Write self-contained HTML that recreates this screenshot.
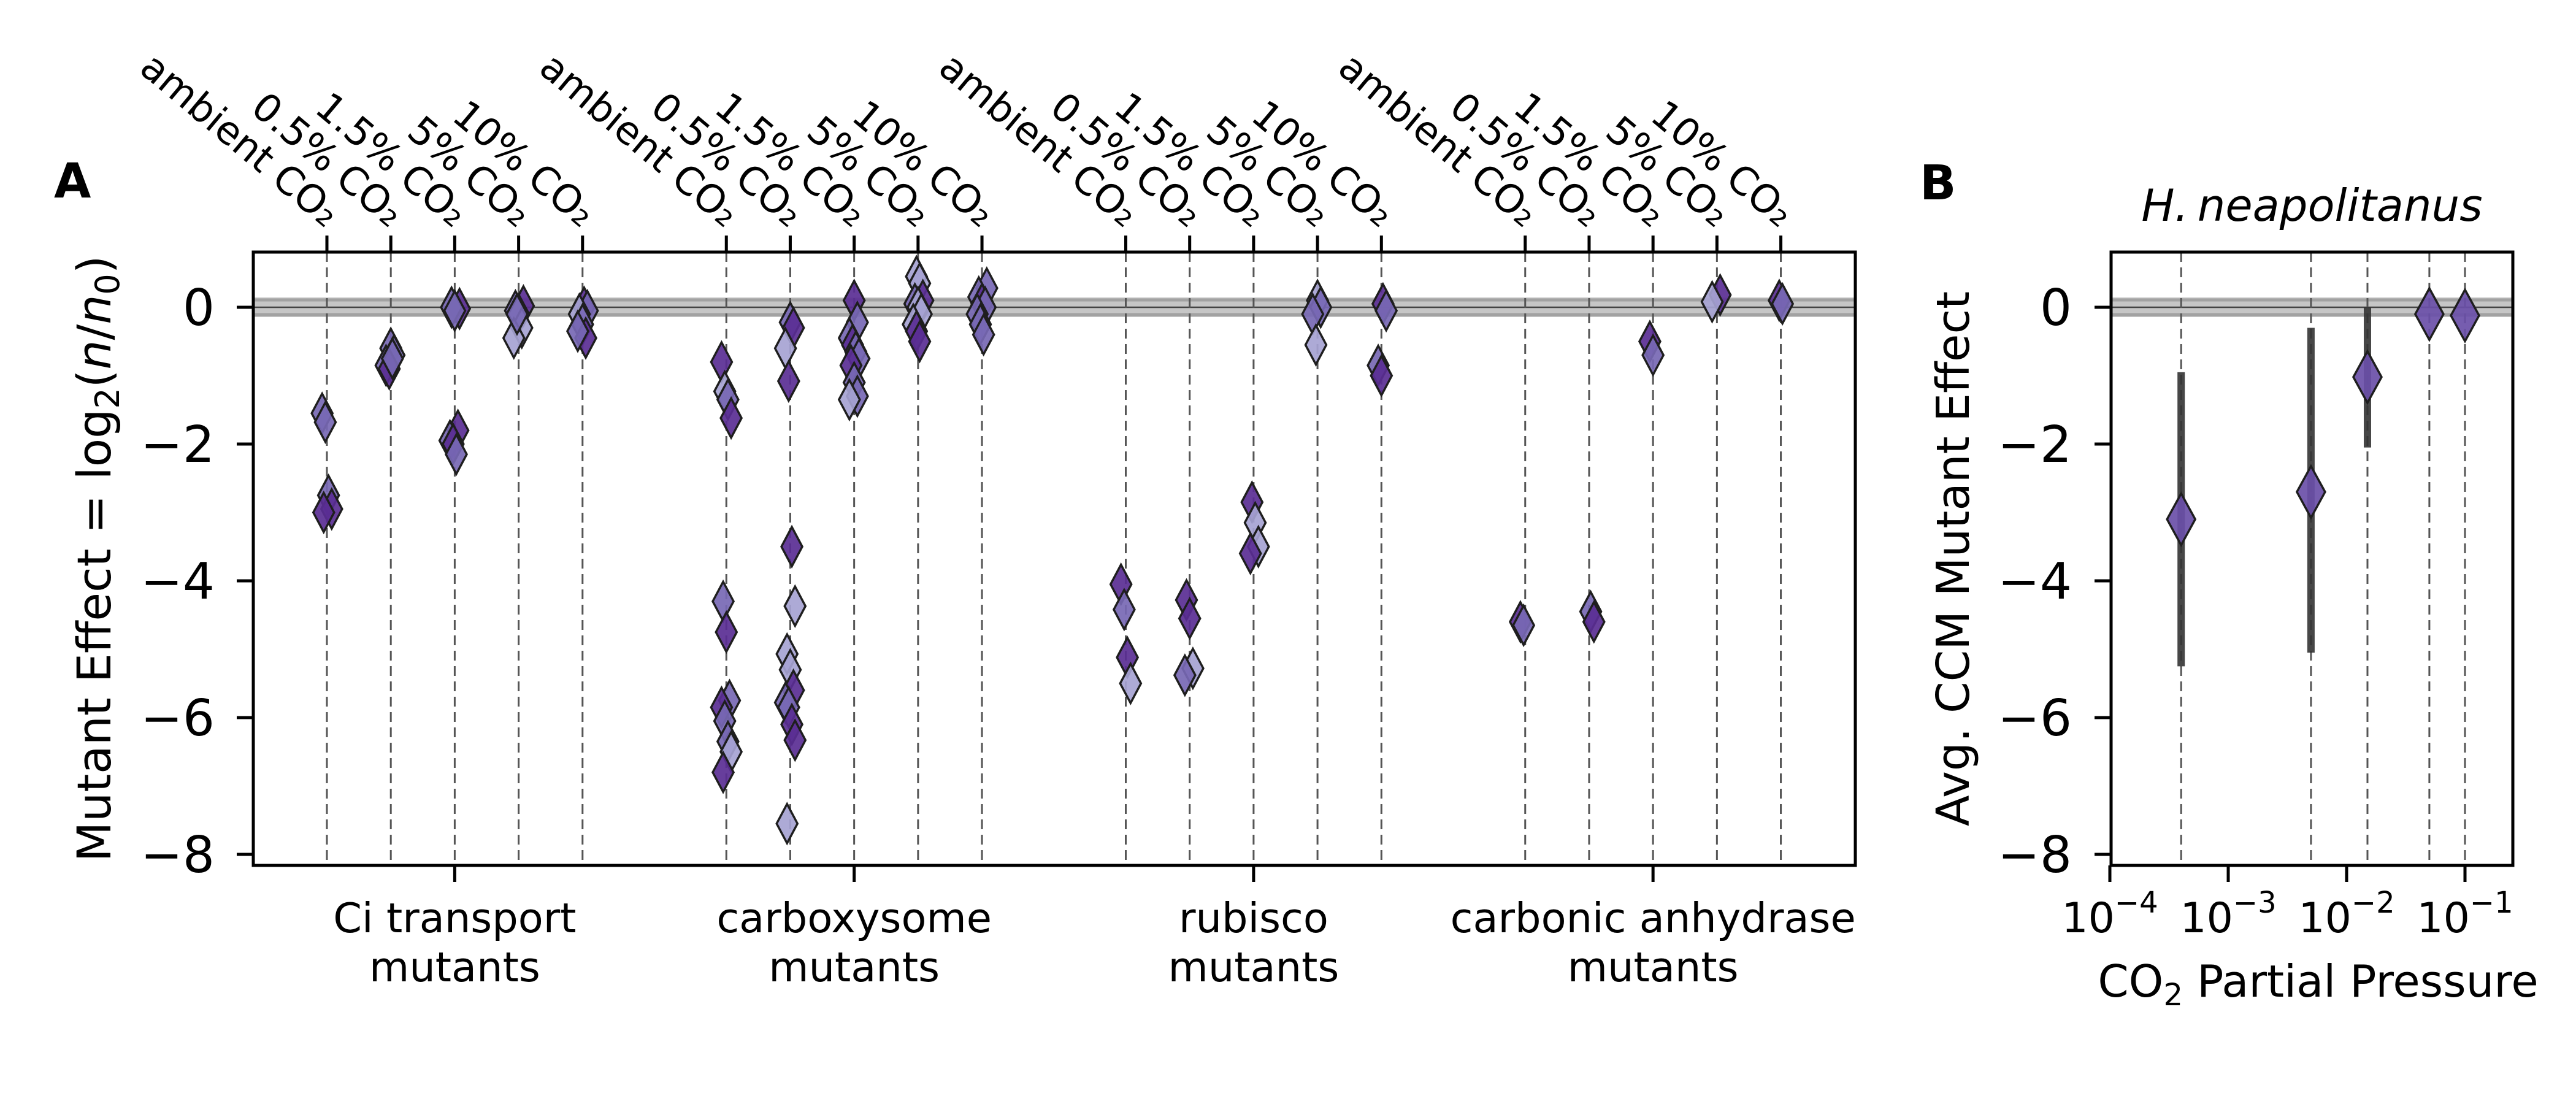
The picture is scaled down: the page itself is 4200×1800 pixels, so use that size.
<!DOCTYPE html>
<html><head><meta charset="utf-8"><style>
html,body{margin:0;padding:0;background:#fff;}
svg{display:block;font-family:"DejaVu Sans","Liberation Sans",sans-serif;}
</style></head><body>
<svg id="fig" width="4200" height="1800" viewBox="0 0 4200 1800" xmlns="http://www.w3.org/2000/svg">
<rect width="4200" height="1800" fill="#fff"/>
<g id="panelA"></g>
<g id="panelB"></g>
</svg>
<script>
// ---------- Panel A data ----------
const groupLabels = [["Ci transport","mutants"],["carboxysome","mutants"],["rubisco","mutants"],["carbonic anhydrase","mutants"]];
const conditionLabels = ["ambient CO\u2082","0.5% CO\u2082","1.5% CO\u2082","5% CO\u2082","10% CO\u2082"];
const yTicksA = [0,-2,-4,-6,-8];
const yTickLabelsA = ["0","\u22122","\u22124","\u22126","\u22128"];
// each point: [condition index, mutant effect, shade index (0 dark,1 medium,2 light)]
const ciTransport = [
 [0,-1.55,1],[0,-1.68,1],[0,-2.75,1],[0,-2.95,0],[0,-3.0,0],
 [1,-0.6,1],[1,-0.7,1],[1,-0.85,1],[1,-0.9,0],[1,-0.75,1],
 [2,-0.02,0],[2,0.0,1],[2,-0.05,1],[2,-1.8,0],[2,-1.95,1],[2,-2.0,0],[2,-2.15,1],
 [3,0.02,0],[3,-0.05,1],[3,-0.1,2],[3,-0.3,2],[3,-0.45,2],[3,-0.1,1],
 [4,0.0,0],[4,-0.05,1],[4,-0.1,2],[4,-0.25,1],[4,-0.45,0],[4,-0.35,1]
];
const carboxysome = [
 [0,-0.8,0],[0,-1.23,2],[0,-1.35,1],[0,-1.62,0],[0,-4.3,1],[0,-4.75,0],[0,-5.75,1],[0,-5.85,0],[0,-6.05,1],[0,-6.35,1],[0,-6.5,2],[0,-6.8,0],
 [1,-0.22,1],[1,-0.3,0],[1,-0.6,2],[1,-1.08,0],[1,-3.5,0],[1,-4.37,2],[1,-5.07,2],[1,-5.3,2],[1,-5.6,0],[1,-5.78,1],[1,-5.85,1],[1,-6.1,0],[1,-6.33,0],[1,-7.55,2],
 [2,0.1,0],[2,-0.22,1],[2,-0.45,1],[2,-0.55,0],[2,-0.65,1],[2,-0.75,1],[2,-0.85,0],[2,-1.1,1],[2,-1.3,1],[2,-1.35,2],
 [3,0.45,2],[3,0.35,2],[3,0.1,0],[3,0.05,1],[3,0.0,2],[3,-0.1,2],[3,-0.25,2],[3,-0.35,0],[3,-0.5,0],
 [4,0.28,1],[4,0.15,1],[4,0.05,0],[4,0.0,1],[4,-0.1,1],[4,-0.25,1],[4,-0.4,1]
];
const rubisco = [
 [0,-4.05,0],[0,-4.42,1],[0,-5.12,0],[0,-5.5,2],
 [1,-4.28,0],[1,-4.55,0],[1,-5.28,2],[1,-5.38,1],
 [2,-2.85,0],[2,-3.15,2],[2,-3.5,2],[2,-3.6,0],
 [3,0.1,2],[3,0.0,1],[3,-0.1,1],[3,-0.55,2],
 [4,0.05,0],[4,-0.05,1],[4,-0.85,1],[4,-1.0,0]
];
const carbonicAnhydrase = [
 [0,-4.6,0],[0,-4.65,1],
 [1,-4.45,1],[1,-4.6,0],
 [2,-0.5,0],[2,-0.7,1],
 [3,0.18,0],[3,0.08,2],
 [4,0.1,0],[4,0.05,1]
];
const groupData = [ciTransport, carboxysome, rubisco, carbonicAnhydrase];

// ---------- Panel B data ----------
const co2Pressure = [0.0004, 0.005, 0.015, 0.05, 0.1];
const avgEffect = [-3.1, -2.7, -1.02, -0.1, -0.12];
const errLow = [-5.25, -5.05, -2.05, -0.1, -0.12];
const errHigh = [-0.95, -0.3, 0.0, -0.1, -0.12];
const xTickExpB = [-4, -3, -2, -1];

const NS = "http://www.w3.org/2000/svg";
function mk(tag, attrs, parent){
  const e = document.createElementNS(NS, tag);
  for (const k in attrs) e.setAttribute(k, attrs[k]);
  parent.appendChild(e); return e;
}
const shades = ["#5a2e94","#7768b4","#a6a3d2"];

// ---------- Panel A ----------
const A = document.getElementById("panelA");
const aL = 413, aR = 3025, aT = 411, aB = 1411;
const yA = v => 501 - v * 111.5;
const unitA = 104.2;
const posA = (g, k) => g * 6.25 + k;
const xA = p => 533 + p * unitA;

let zb = mk("rect", {x:aL, y:yA(0)-16, width:aR-aL, height:32, fill:"#c6c6c6"}, A);


[-12, 12].forEach(d => {
  const l = mk("line", {x1:aL, x2:aR, y1:yA(0)+d, y2:yA(0)+d, stroke:"#a2a2a2", "stroke-width":5}, A);
  
  
});
let zl = mk("line", {x1:aL, x2:aR, y1:yA(0), y2:yA(0), stroke:"#444", "stroke-width":2.5}, A);



for (let g = 0; g < groupLabels.length; g++) {
  for (let k = 0; k < conditionLabels.length; k++) {
    const x = xA(posA(g, k));
    const vl = mk("line", {x1:x, x2:x, y1:aT, y2:aB, stroke:"#555", "stroke-width":3, "stroke-dasharray":"16 9"}, A);
    
    
    const tk = mk("line", {x1:x, x2:x, y1:aT, y2:aT-27, stroke:"#000", "stroke-width":5}, A);
    
    
    const t = mk("text", {x:0, y:0, "font-size":63, "text-anchor":"end", transform:`translate(${x-2},${aT-38}) rotate(40)`}, A);
    t.textContent = conditionLabels[k];
    
    
  }
  const cx = xA(posA(g, 2));
  const bt = mk("line", {x1:cx, x2:cx, y1:aB, y2:aB+27, stroke:"#000", "stroke-width":5}, A);
  
  
  groupLabels[g].forEach((s, i) => {
    const t = mk("text", {x:cx, y:1520 + i*80, "font-size":67, "text-anchor":"middle"}, A);
    t.textContent = s;
    
    
  });
}

function diamond(parent, cx, cy, hw, hh, fill, sw){
  return mk("polygon", {points:`${cx},${cy-hh} ${cx+hw},${cy} ${cx},${cy+hh} ${cx-hw},${cy}`, fill:fill, "fill-opacity":0.92, stroke:"#1e1e1e", "stroke-width":sw}, parent);
}
groupData.forEach((pts, g) => {
  pts.forEach((p, i) => {
    const jitter = (((i * 37) % 7) - 3) * 0.025;
    const d = diamond(A, xA(posA(g, p[0]) + jitter), yA(p[1]), 17, 32, shades[p[2]], 3.5);
    
    
  });
});

yTicksA.forEach((v, i) => {
  const tk = mk("line", {x1:aL-27, x2:aL, y1:yA(v), y2:yA(v), stroke:"#000", "stroke-width":5}, A);
  
  
  const t = mk("text", {x:350, y:yA(v)+29, "font-size":82, "text-anchor":"end"}, A);
  t.textContent = yTickLabelsA[i];
  
  
});
let frA = mk("rect", {x:aL, y:aT, width:aR-aL, height:aB-aT, fill:"none", stroke:"#000", "stroke-width":5}, A);



let ytA = mk("text", {x:0, y:0, "font-size":76, "text-anchor":"middle", transform:`translate(180,${(aT+aB)/2}) rotate(-90)`}, A);
ytA.innerHTML = 'Mutant Effect = log<tspan font-size="54" dy="14">2</tspan><tspan dy="-14">(</tspan><tspan font-style="italic">n</tspan>/<tspan font-style="italic">n</tspan><tspan font-size="54" dy="14">0</tspan><tspan dy="-14">)</tspan>';



let la = mk("text", {x:88, y:322, "font-size":78, "font-weight":"bold"}, A);
la.textContent = "A";



// ---------- Panel B ----------
const B = document.getElementById("panelB");
const bL = 3442, bR = 4097, bT = 411, bB = 1411;
const yB = v => 501 - v * 111.5;
const xB = v => 3633 + (Math.log10(v) + 3) * 193;

let zbB = mk("rect", {x:bL, y:yB(0)-16, width:bR-bL, height:32, fill:"#c6c6c6"}, B);


[-12, 12].forEach(d => {
  const l = mk("line", {x1:bL, x2:bR, y1:yB(0)+d, y2:yB(0)+d, stroke:"#a2a2a2", "stroke-width":5}, B);
  
  
});
let zlB = mk("line", {x1:bL, x2:bR, y1:yB(0), y2:yB(0), stroke:"#444", "stroke-width":2.5}, B);



co2Pressure.forEach((c) => {
  const x = xB(c);
  const vl = mk("line", {x1:x, x2:x, y1:bT, y2:bB, stroke:"#555", "stroke-width":3, "stroke-dasharray":"16 9"}, B);
  
  
});
co2Pressure.forEach((c, i) => {
  const x = xB(c);
  const eb = mk("line", {x1:x, x2:x, y1:yB(errHigh[i]), y2:yB(errLow[i]), stroke:"#333", "stroke-opacity":0.9, "stroke-width":12}, B);
  
  
  const d = diamond(B, x, yB(avgEffect[i]), 23, 42, "#6a4fa8", 3.5);
  
  
});

yTicksA.forEach((v, i) => {
  const tk = mk("line", {x1:bL-27, x2:bL, y1:yB(v), y2:yB(v), stroke:"#000", "stroke-width":5}, B);
  
  
  const t = mk("text", {x:3378, y:yB(v)+29, "font-size":82, "text-anchor":"end"}, B);
  t.textContent = yTickLabelsA[i];
  
  
});
xTickExpB.forEach(e => {
  const x = xB(Math.pow(10, e));
  const tk = mk("line", {x1:x, x2:x, y1:bB, y2:bB+27, stroke:"#000", "stroke-width":5}, B);
  
  
  const t = mk("text", {x:x, y:1520, "font-size":68, "text-anchor":"middle"}, B);
  t.innerHTML = '10<tspan font-size="48" dy="-32">\u2212' + (-e) + '</tspan>';
  
  
});
let frB = mk("rect", {x:bL, y:bT, width:bR-bL, height:bB-bT, fill:"none", stroke:"#000", "stroke-width":5}, B);



let ytB = mk("text", {x:0, y:0, "font-size":74, "text-anchor":"middle", transform:`translate(3210,${(bT+bB)/2}) rotate(-90)`}, B);
ytB.textContent = "Avg. CCM Mutant Effect";



let xtB = mk("text", {x:(bL+bR)/2 + 10, y:1625, "font-size":72, "text-anchor":"middle"}, B);
xtB.innerHTML = 'CO<tspan font-size="50" dy="14">2</tspan><tspan dy="-14"> Partial Pressure</tspan>';



let ttl = mk("text", {x:(bL+bR)/2, y:360, "font-size":72, "font-style":"italic", "text-anchor":"middle"}, B);
ttl.textContent = "H.\u2009neapolitanus";



let lb = mk("text", {x:3130, y:325, "font-size":78, "font-weight":"bold"}, B);
lb.textContent = "B";


</script>
</body></html>
